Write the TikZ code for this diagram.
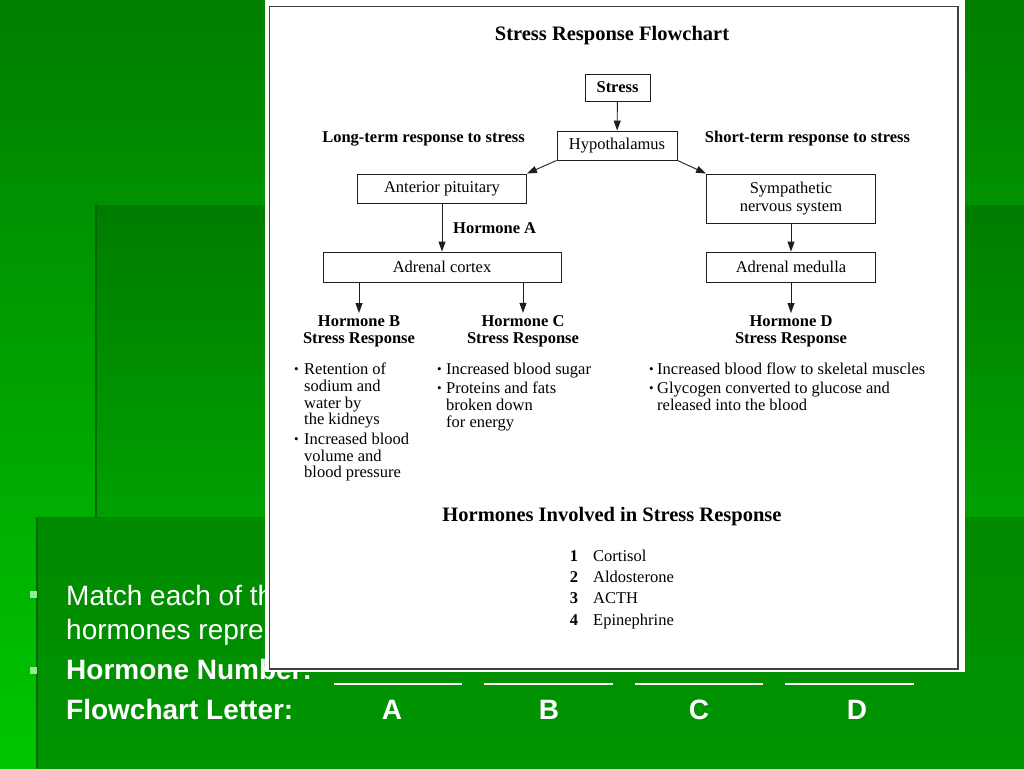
\documentclass[tikz,border=0pt]{standalone}
\usepackage{fontspec}
\setmainfont{Liberation Serif}
\newfontfamily\slidefont{Liberation Sans}
\usetikzlibrary{arrows.meta}
\definecolor{bgtop}{RGB}{0,126,0}
\definecolor{bgbot}{RGB}{0,198,0}
\definecolor{panelA}{RGB}{0,124,0}
\definecolor{panelB}{RGB}{0,160,0}
\definecolor{panelC}{RGB}{0,138,0}
\definecolor{panelD}{RGB}{0,148,0}
\definecolor{edgegreen}{RGB}{0,104,0}
\definecolor{bulletgreen}{RGB}{150,235,150}
\definecolor{framegray}{RGB}{64,64,72}
\definecolor{boxline}{RGB}{30,30,30}
\newcommand\setfs[1]{\fontsize{#1}{#1}\selectfont}
\begin{document}
\begin{tikzpicture}[x=1pt,y=-1pt,
  box/.style={draw=boxline, line width=0.9pt, inner sep=0pt, font=\setfs{16.5}},
  lab/.style={inner sep=0pt, anchor=base, font=\setfs{16.5}},
  blab/.style={inner sep=0pt, anchor=base, font=\setfs{16.5}\bfseries},
  head/.style={inner sep=2pt, anchor=base, font=\setfs{16.5}\bfseries},
  btxt/.style={inner sep=0pt, anchor=base west, font=\setfs{16.5}},
  bdot/.style={inner sep=0pt, anchor=base west, font=\setfs{13}},
  arr/.style={-{Triangle[length=10pt,width=7pt]}, line width=0.9pt, draw=boxline},
  slide/.style={inner sep=0pt, anchor=base west, text=white, font=\slidefont\setfs{28}},
  slideb/.style={inner sep=0pt, anchor=base west, text=white, font=\slidefont\bfseries\setfs{28}},
  letter/.style={inner sep=0pt, anchor=base, text=white, font=\slidefont\bfseries\setfs{28}}
]
\useasboundingbox (0,0) rectangle (1024,768);
% background
\shade[top color=bgtop, bottom color=bgbot] (0,0) rectangle (1024,768);
\shade[top color=panelA, bottom color=panelB] (95,205) rectangle (1024,517);
\shade[top color=panelC, bottom color=panelD] (36,517) rectangle (1024,768);
\draw[edgegreen, line width=2pt] (96,205) -- (96,517);
\draw[edgegreen, line width=2pt] (37,517) -- (37,768);
\draw[edgegreen!80!green, line width=1.5pt] (36,517.5) -- (1024,517.5);
% slide text
\fill[bulletgreen] (30,591) rectangle (37,598);
\fill[bulletgreen] (30,667) rectangle (37,674);
\node[slide] (m1) at (66,605) {Match each of th};
\node[slide] (m2) at (66,639) {hormones repre};
\node[slideb] (hn) at (66,679) {Hormone Number:};
\node[slideb] (fl) at (66,719) {Flowchart Letter:};
\draw[white, line width=2.5pt] (334,684) -- (462,684);
\draw[white, line width=2.5pt] (484,684) -- (613,684);
\draw[white, line width=2.5pt] (635,684) -- (763,684);
\draw[white, line width=2.5pt] (785,684) -- (914,684);
\node[letter] (la) at (392,719) {A};
\node[letter] (lb) at (549,719) {B};
\node[letter] (lc) at (699,719) {C};
\node[letter] (ld) at (857,719) {D};
% white panel
\fill[white] (265,0) rectangle (965,672);
\draw[framegray, line width=1.6pt] (269.5,6.5) rectangle (958,669);
% flowchart
\node[inner sep=0pt, anchor=base, font=\setfs{20.5}\bfseries] (title) at (612,41) {Stress Response Flowchart};
\node[box, minimum width=65pt, minimum height=27pt, font=\setfs{16.5}\bfseries] (stress) at (617.5,87.5) {Stress};
\node[box, minimum width=120pt, minimum height=29pt] (hypo) at (617,145.5) {Hypothalamus};
\node[box, minimum width=169pt, minimum height=29pt] (ap) at (442,188.5) {Anterior pituitary};
\node[box, minimum width=169pt, minimum height=49pt, align=center, font=\fontsize{16.5}{18}\selectfont] (sns) at (791,198.5) {Sympathetic\\nervous system};
\node[box, minimum width=238pt, minimum height=30pt] (ac) at (442,267) {Adrenal cortex};
\node[box, minimum width=169pt, minimum height=30pt] (am) at (791,267) {Adrenal medulla};
\node[blab] (long) at (423.5,142) {Long-term response to stress};
\node[blab] (short) at (807.5,142) {Short-term response to stress};
\node[blab, anchor=base west] (ha) at (453,233) {Hormone A};
\node[head] (hb1) at (359,326) {Hormone B};
\node[head] (hb2) at (359,343) {Stress Response};
\node[head] (hc1) at (523,326) {Hormone C};
\node[head] (hc2) at (523,343) {Stress Response};
\node[head] (hd1) at (791,326) {Hormone D};
\node[head] (hd2) at (791,343) {Stress Response};
% arrows
\draw[arr] (stress) -- (hypo);
\draw[arr] (hypo.south west) -- (ap.north east);
\draw[arr] (hypo.south east) -- (sns.north west);
\draw[arr] (ap.south) -- (ac.north);
\draw[arr] (sns.south) -- (am.north);
\draw[arr] (ac.south -| hb1.north) -- (hb1.north);
\draw[arr] (ac.south -| hc1.north) -- (hc1.north);
\draw[arr] (am.south -| hd1.north) -- (hd1.north);
% bullets B
\node[bdot] (db1) at (294,373) {•};
\node[btxt] (tb1) at (304,374) {Retention of};
\node[btxt] (tb2) at (304,391) {sodium and};
\node[btxt] (tb3) at (304,408) {water by};
\node[btxt] (tb4) at (304,424) {the kidneys};
\node[bdot] (db2) at (294,443) {•};
\node[btxt] (tb5) at (304,444) {Increased blood};
\node[btxt] (tb6) at (304,461) {volume and};
\node[btxt] (tb7) at (304,477) {blood pressure};
% bullets C
\node[bdot] (dc1) at (437,373) {•};
\node[btxt] (tc1) at (446,374) {Increased blood sugar};
\node[bdot] (dc2) at (437,392) {•};
\node[btxt] (tc2) at (446,393) {Proteins and fats};
\node[btxt] (tc3) at (446,410) {broken down};
\node[btxt] (tc4) at (446,427) {for energy};
% bullets D
\node[bdot] (dd1) at (649,373) {•};
\node[btxt] (td1) at (657,374) {Increased blood flow to skeletal muscles};
\node[bdot] (dd2) at (649,392) {•};
\node[btxt] (td2) at (657,393) {Glycogen converted to glucose and};
\node[btxt] (td3) at (657,410) {released into the blood};
% hormone list
\node[inner sep=0pt, anchor=base, font=\setfs{20.5}\bfseries] (list) at (612,521) {Hormones Involved in Stress Response};
\node[blab] (n1) at (574,561) {1};
\node[blab] (n2) at (574,582) {2};
\node[blab] (n3) at (574,603) {3};
\node[blab] (n4) at (574,625) {4};
\node[btxt] (h1) at (593,561) {Cortisol};
\node[btxt] (h2) at (593,582) {Aldosterone};
\node[btxt] (h3) at (593,603) {ACTH};
\node[btxt] (h4) at (593,625) {Epinephrine};
\end{tikzpicture}
\end{document}
